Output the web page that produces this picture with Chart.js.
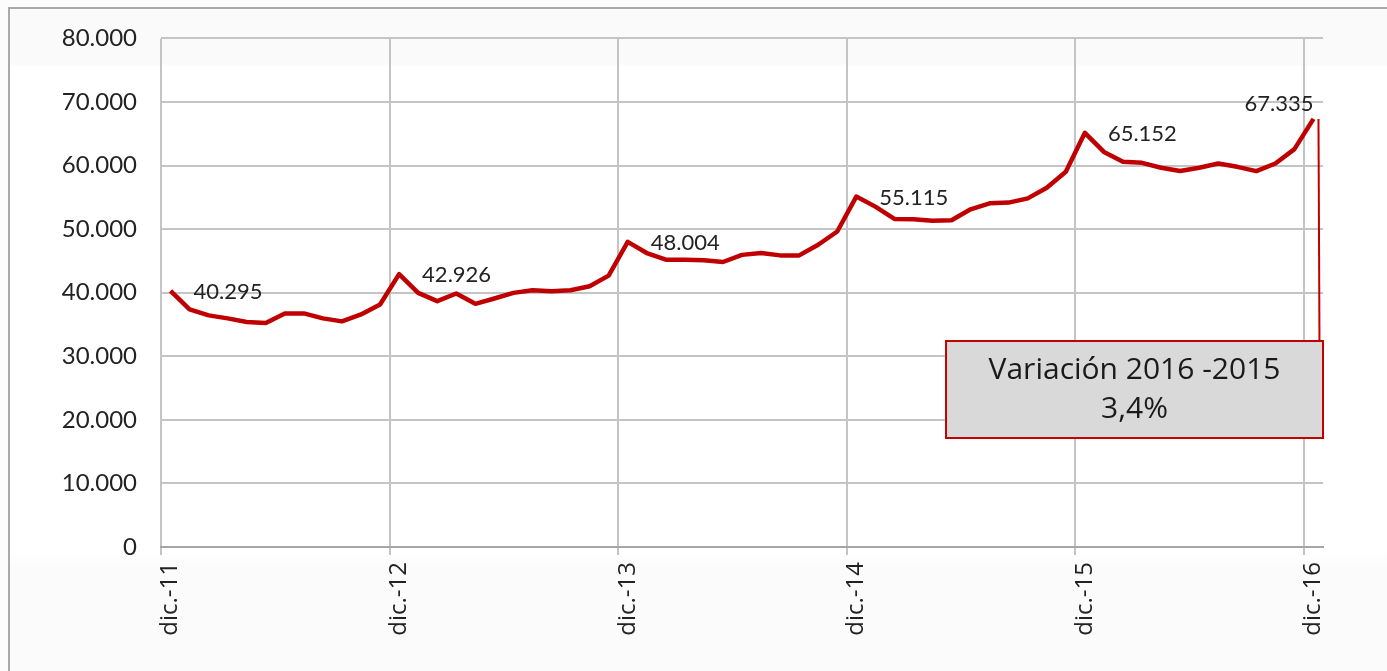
<!DOCTYPE html>
<html lang="es">
<head>
<meta charset="utf-8">
<title>Evolución dic.-11 / dic.-16</title>
<script src="https://cdn.jsdelivr.net/npm/chart.js@4.4.1/dist/chart.umd.min.js"></script>
<style>
  html, body { margin: 0; padding: 0; background: #fcfcfc; }
  #wrap { position: relative; width: 1387px; height: 671px; overflow: hidden; }
  #frame {
    position: absolute; left: 8px; top: 7px; right: -2px; bottom: -2px;
    border-top: 2px solid #a9a9a9; border-left: 2px solid #a9a9a9;
    background: linear-gradient(#fafafa 0, #fafafa 55px, #ffffff 58px, #ffffff 540px, #fbfbfb 560px);
  }
  #chart { position: absolute; left: 0; top: 0; }
</style>
</head>
<body>
<div id="wrap">
  <div id="frame"></div>
  <canvas id="chart" width="1387" height="671"></canvas>
</div>
<script>
// Meses (eje X) y años
const meses = ['ene.', 'feb.', 'mar.', 'abr.', 'may.', 'jun.', 'jul.', 'ago.', 'sep.', 'oct.', 'nov.', 'dic.'];
const anios = ['11', '12', '13', '14', '15', '16'];

// Valores mensuales, dic.-11 a dic.-16
const valores = [
  40295, 37370, 36430, 35960, 35380, 35220, 36740, 36740, 35960, 35490, 36580, 38150,
  42926, 39970, 38670, 39870, 38250, 39090, 39970, 40390, 40230, 40390, 41020, 42690,
  48004, 46240, 45190, 45190, 45090, 44830, 45950, 46240, 45870, 45870, 47540, 49630,
  55115, 53540, 51610, 51550, 51300, 51400, 53120, 54060, 54170, 54840, 56520, 59020,
  65152, 62150, 60590, 60430, 59650, 59130, 59650, 60320, 59800, 59130, 60320, 62580,
  67335
];

// Etiquetas del eje Y
const ticksY = [0, 10000, 20000, 30000, 40000, 50000, 60000, 70000, 80000];

// Puntos con etiqueta (cada diciembre)
const puntosEtiqueta = [0, 12, 24, 36, 48, 60];

const cuadroTexto = ['Variación 2016 -2015', '3,4%'];

// categorías: dic.-11, ene.-12, ... dic.-16
const categorias = ['dic.-' + anios[0]];
anios.slice(1).forEach((a) => {
  meses.forEach((m) => categorias.push(m + '-' + a));
});

const ROJO = '#c00000';
const GRIS = '#c4c4c4';
const fmt = (n) => String(n).replace(/\B(?=(\d{3})+(?!\d))/g, '.');

// etiquetas de datos + cuadro de variación
const anotaciones = {
  id: 'anotaciones',
  afterDatasetsDraw(chart) {
    const { ctx, chartArea } = chart;
    const meta = chart.getDatasetMeta(0);
    ctx.save();
    ctx.fillStyle = '#222';
    ctx.font = '22px Lato';
    ctx.textBaseline = 'middle';
    puntosEtiqueta.forEach((i) => {
      const p = meta.data[i];
      const txt = fmt(valores[i]);
      if (i === valores.length - 1) {
        ctx.textAlign = 'right';
        ctx.fillText(txt, p.x, p.y - 15);
      } else {
        ctx.textAlign = 'left';
        ctx.fillText(txt, p.x + 23, p.y + 1);
      }
    });

    // cuadro
    const last = meta.data[valores.length - 1];
    const bx = chartArea.left + (chartArea.right - chartArea.left) * 0.6756;
    const by = chartArea.top + (chartArea.bottom - chartArea.top) * 0.595;
    const bw = chartArea.right - bx;
    const bh = 97;

    ctx.strokeStyle = ROJO;
    ctx.lineWidth = 2;
    ctx.beginPath();
    ctx.moveTo(last.x + 5, last.y);
    ctx.lineTo(last.x + 6, by);
    ctx.stroke();

    ctx.fillStyle = '#d9d9d9';
    ctx.fillRect(bx, by, bw, bh);
    ctx.strokeRect(bx, by, bw, bh);

    ctx.fillStyle = '#1a1a1a';
    ctx.font = '30px "Open Sans"';
    ctx.textAlign = 'center';
    ctx.fillText(cuadroTexto[0], bx + bw / 2, by + 29);
    ctx.fillText(cuadroTexto[1], bx + bw / 2, by + 68);
    ctx.restore();
  },
};

new Chart(document.getElementById('chart'), {
  type: 'line',
  data: {
    labels: categorias,
    datasets: [{
      data: valores,
      borderColor: ROJO,
      borderWidth: 4.5,
      pointRadius: 0,
      tension: 0,
      borderJoinStyle: 'round',
      clip: false,
    }],
  },
  options: {
    responsive: false,
    animation: false,
    events: [],
    layout: { padding: { left: 0, right: 64, top: 35, bottom: 0 } },
    plugins: { legend: { display: false }, tooltip: { enabled: false } },
    scales: {
      x: {
        offset: true,
        grid: {
          offset: true,
          color: (c) => (c.index % 12 === 0 ? GRIS : 'rgba(0,0,0,0)'),
          lineWidth: 2,
          tickLength: 8,
        },
        border: { color: '#a6a6a6', width: 2 },
        ticks: {
          autoSkip: false,
          maxRotation: 90,
          minRotation: 90,
          padding: 7,
          color: '#222',
          font: { family: 'Open Sans', size: 24 },
          callback: (v, i) => (i % 12 === 0 ? categorias[i] : ''),
        },
        afterFit: (s) => { s.height = 124; },
      },
      y: {
        min: 0,
        max: 80000,
        afterBuildTicks: (s) => { s.ticks = ticksY.map((v) => ({ value: v })); },
        grid: { color: GRIS, lineWidth: 2, drawTicks: false },
        border: { display: false },
        ticks: {
          padding: 24,
          color: '#222',
          font: { family: 'Lato', size: 24 },
          callback: (v) => fmt(v),
        },
        afterFit: (s) => { s.width = 161; },
      },
    },
  },
  plugins: [anotaciones],
});
</script>
</body>
</html>
